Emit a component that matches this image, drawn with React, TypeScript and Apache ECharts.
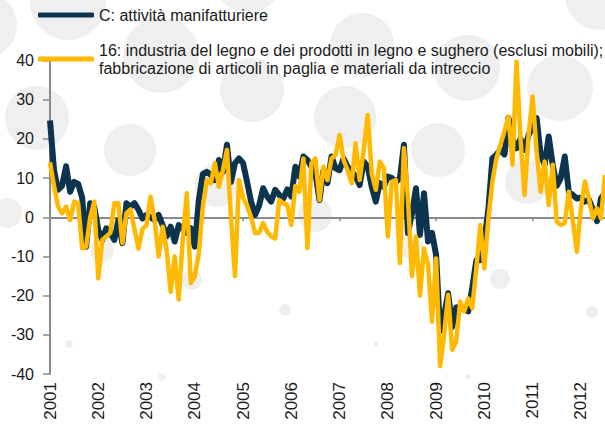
import React, { useEffect, useRef } from "react";
import * as echarts from "echarts";

const startYear = 2001;
const monthCount = 139; // gen 2001 - lug 2012
const years = ["2001", "2002", "2003", "2004", "2005", "2006", "2007", "2008", "2009", "2010", "2011", "2012"];

const nameC = "C: attività manifatturiere";
const name16 =
  "16: industria del legno e dei prodotti in legno e sughero (esclusi mobili); fabbricazione di articoli in paglia e materiali da intreccio";

const manifatturiere = [
  24.7, 12, 7, 8, 13, 6.5, 9, 8.5, 5, -7.5, 3.6, 2.7,
  -3.2, -5.8, -2.8, -4, -5.8, -0.7, -6.6, 3.6, 2.7, 3.6, 1.9, -0.3,
  0.6, 0, -0.7, 0.6, -2, -4.9, -2.4, -6.2, -2, -3, -4, -2.8,
  -7.5, 4.4, 11, 11.6, 10.8, 9.5, 14.6, 11.6, 18.5, 9, 13.8, 15,
  13.8, 9, 4, 0.6, 3, 7.4, 5.3, 4, 7, 5.7, 4.8, 7.1,
  5.3, 12.9, 10.4, 15.5, 14.6, 12.9, 11.2, 4.4, 12, 8.7, 15.5, 12.5,
  12, 15, 12.9, 11.6, 10.4, 8.2, 14.2, 12.9, 7.8, 4, 8.7, 7.8,
  10.4, 10, 9, 10, 18.5, -4, 1, 7.4, -4.5, 6.1, -6.2, -4,
  -9.6, -29, -25, -19.4, -28, -23, -22.8, -23.6, -24, -18, -11, -11,
  -6, 2, 15, 16, 17.2, 16, 25.3, 20, 17.6, 20, 17.2, 21,
  23, 25.3, 16, 13.4, 20.6, 13.4, 8, 10, 15.5, 6.5, 5.7, 4.8,
  5, 4, 4.5, 2, -1, 4.8, 6.1,
];

const legno = [
  14, 8, 2.7, 1, 2.7, -0.7, 4, 3.6, -7.9, -7.5, 0, 4,
  -15.6, -5.8, -4.9, -4, 3.6, 3.6, -6.6, 1, 2, -3, -8, -3,
  -2, 5.3, -0.7, -10, -2.4, -8.3, -19, -10, -21, -5.8, 6.1, -16.8,
  -15.1, -9.2, 2.7, 9.5, 8.7, 13.8, 7.8, 12, 17.2, 0, -15, 9.5,
  5, 3, 0, -4, -4, -1.5, -3.7, -4.9, -5.4, 4.4, 3.6, 3.1,
  -2, 8, 6.5, 15, -7.9, 13.8, 15, 4.4, 12.9, 9.5, 15, 15.9,
  21, 14.6, 12, 8.7, 18.9, 9.5, 17.2, 26.1, 11.2, 7, 14.2, 12.5,
  -4.9, 9.1, 9.5, -11.7, 17.6, 5, -15, -5, -20, -8, -12, -26.6,
  -10.5, -38, -30, -19.8, -33.8, -31.7, -21.5, -24, -20.7, -23.2, -13, -2,
  -13, -0.3, 9, 15, 18.5, 22, 25.7, 13.4, 39.7, 20, 5.7, 21,
  30.8, 16.8, 6.5, 14.2, 3.1, 13.4, -1.1, -2, -1.5, 6.5, -1, -8.8,
  2.3, 9.1, 4.8, -0.3, 2.3, -0.3, 10.8,
];

const months: string[] = [];
for (let k = 0; k < monthCount; k++) {
  const y = startYear + Math.floor(k / 12);
  const m = (k % 12) + 1;
  months.push(`${y}-${m < 10 ? "0" + m : m}`);
}

// decorative background dots [cx, cy, r]
const dots: [number, number, number][] = [
  [-15, 25, 32], [68, 2, 38], [161, 55, 38], [248, -20, 33], [362, 45, 32],
  [37, 118, 32], [130, 150, 26], [252, 90, 32], [345, 117, 31], [438, 150, 27],
  [467, 68, 33], [560, 88, 33], [600, -5, 35],
  [7, 213, 15], [217, 185, 22], [315, 215, 17], [527, 182, 22],
  [102, 250, 12], [192, 280, 10], [410, 245, 13], [500, 279, 10],
  [285, 310, 6], [592, 312, 6],
  [69, 344, 4], [162, 377, 4], [376, 344, 3], [468, 377, 3],
];

const FONT = "'Liberation Sans', Arial, Helvetica, sans-serif";
const DARK = "#0c344f";
const GOLD = "#ffb900";
const AXIS = "#8a8a8a";
const TEXT = "#1a1a1a";

export default function App() {
  const ref = useRef<HTMLDivElement>(null);
  useEffect(() => {
    document.body.style.margin = "0";
    if (!ref.current) return;
    const chart = echarts.init(ref.current, null, { renderer: "svg" });
    chart.setOption({
      animation: false,
      backgroundColor: "#ffffff",
      graphic: dots.map(([cx, cy, r]) => ({
        type: "circle",
        shape: { cx, cy, r },
        style: { fill: "#efefef" },
        silent: true,
        z: -10,
      })),
      legend: [
        {
          data: [nameC],
          left: 38,
          top: 7,
          padding: 0,
          icon: "roundRect",
          itemWidth: 56,
          itemHeight: 5,
          selectedMode: false,
          textStyle: { fontSize: 16, color: TEXT, fontFamily: FONT, lineHeight: 16 },
        },
        {
          data: [name16],
          left: 38,
          top: 32,
          padding: 0,
          icon: "roundRect",
          itemWidth: 56,
          itemHeight: 5,
          selectedMode: false,
          formatter: (n: string) => n.replace("; ", ";\n"),
          textStyle: {
            fontSize: 16,
            color: TEXT,
            fontFamily: FONT,
            lineHeight: 18,
            padding: [18, 0, 0, 0],
          },
        },
      ],
      grid: { left: 50, right: 0, top: 60.5, bottom: 52, containLabel: false },
      xAxis: [
        {
          type: "category",
          data: months,
          boundaryGap: false,
          position: "bottom",
          axisLine: { show: false, onZero: false },
          axisTick: { show: false },
          axisLabel: {
            interval: (idx: number) => idx % 12 === 0,
            formatter: (v: string) => v.slice(0, 4),
            rotate: 90,
            margin: 8,
            fontSize: 17,
            color: TEXT,
            fontFamily: FONT,
            padding: [6, 0, 0, 0],
          },
          splitLine: { show: false },
        },
        {
          type: "category",
          data: months,
          boundaryGap: false,
          position: "bottom",
          axisLine: { show: true, onZero: true, onZeroAxisIndex: 0, lineStyle: { color: AXIS, width: 2 } },
          axisTick: { show: true, interval: 11, length: 4, lineStyle: { color: AXIS, width: 1.5 } },
          axisLabel: { show: false },
          splitLine: { show: false },
        },
      ],
      yAxis: {
        type: "value",
        min: -40,
        max: 40,
        interval: 10,
        axisLine: { show: true, lineStyle: { color: AXIS, width: 2 } },
        axisTick: { show: true, length: 7, lineStyle: { color: AXIS, width: 1.5 } },
        axisLabel: { fontSize: 16, color: TEXT, fontFamily: FONT, margin: 16 },
        splitLine: { show: false },
      },
      series: [
        {
          name: nameC,
          type: "line",
          data: manifatturiere,
          xAxisIndex: 0,
          showSymbol: false,
          symbol: "none",
          lineStyle: { color: DARK, width: 6, join: "round" },
          itemStyle: { color: DARK },
          z: 3,
        },
        {
          name: name16,
          type: "line",
          data: legno,
          xAxisIndex: 0,
          showSymbol: false,
          symbol: "none",
          lineStyle: { color: GOLD, width: 4.5, join: "round" },
          itemStyle: { color: GOLD },
          z: 4,
        },
      ],
    });
    return () => chart.dispose();
  }, []);
  return <div ref={ref} style={{ width: 605, height: 426 }} />;
}
